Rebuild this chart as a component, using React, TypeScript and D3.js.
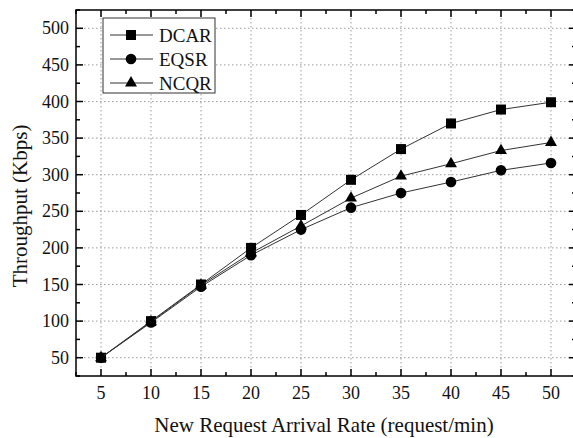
import * as d3 from 'd3';

const rates = [5, 10, 15, 20, 25, 30, 35, 40, 45, 50];
const dcar = [50, 100, 150, 200, 245, 293, 335, 370, 389, 399];
const eqsr = [50, 98, 147, 190, 225, 255, 275, 290, 306, 316];
const ncqr = [50, 99, 149, 193, 230, 268, 298, 315, 333, 344];
const seriesNames = ['DCAR', 'EQSR', 'NCQR'];
const xTicks = [5, 10, 15, 20, 25, 30, 35, 40, 45, 50];
const yTicks = [50, 100, 150, 200, 250, 300, 350, 400, 450, 500];

const W = 573;
const H = 438;
const PLOT = { left: 76, top: 10, right: 576, bottom: 376 };
const FONT = "'Liberation Serif', 'Times New Roman', serif";

const x = d3.scaleLinear().domain([2.5, 52.5]).range([PLOT.left, PLOT.right]);
const y = d3.scaleLinear().domain([25, 525]).range([PLOT.bottom, PLOT.top]);

const xMinor = d3.range(2.5, 52.6, 2.5).filter(v => !xTicks.includes(v));
const yMinor = d3.range(25, 526, 25).filter(v => !yTicks.includes(v));

const txt = { fontFamily: FONT, fill: '#111' };

function Marker({ kind, cx, cy }: { kind: string; cx: number; cy: number }) {
  if (kind === 'DCAR') {
    return <rect x={cx - 5} y={cy - 5} width={10} height={10} fill="#000" />;
  }
  if (kind === 'EQSR') {
    return <circle cx={cx} cy={cy} r={5.3} fill="#000" />;
  }
  const tri = d3.symbol().type(d3.symbolTriangle).size(62)();
  return <path d={tri || ''} transform={`translate(${cx},${cy})`} fill="#000" />;
}

export default function App() {
  const data = [dcar, eqsr, ncqr];
  const line = d3.line<number>().x((_, i) => x(rates[i])).y(d => y(d));

  return (
    <svg width={W} height={H} style={{ position: 'absolute', left: 0, top: 0, background: '#fff' }}>
      <rect x={0} y={0} width={W} height={H} fill="#fff" />

      {/* grid */}
      <g stroke="#9a9a9a" strokeWidth={1} strokeDasharray="1.5,2.5">
        {xTicks.map(t => (
          <line key={'gx' + t} x1={x(t)} x2={x(t)} y1={PLOT.top} y2={PLOT.bottom} />
        ))}
        {yTicks.map(t => (
          <line key={'gy' + t} x1={PLOT.left} x2={PLOT.right} y1={y(t)} y2={y(t)} />
        ))}
      </g>

      {/* ticks on all four sides, pointing inward */}
      <g stroke="#000" strokeWidth={1.5}>
        {xTicks.map(t => (
          <g key={'tx' + t}>
            <line x1={x(t)} x2={x(t)} y1={PLOT.bottom} y2={PLOT.bottom - 7} />
            <line x1={x(t)} x2={x(t)} y1={PLOT.top} y2={PLOT.top + 7} />
          </g>
        ))}
        {xMinor.map(t => (
          <g key={'mx' + t}>
            <line x1={x(t)} x2={x(t)} y1={PLOT.bottom} y2={PLOT.bottom - 4} />
            <line x1={x(t)} x2={x(t)} y1={PLOT.top} y2={PLOT.top + 4} />
          </g>
        ))}
        {yTicks.map(t => (
          <g key={'ty' + t}>
            <line x1={PLOT.left} x2={PLOT.left + 7} y1={y(t)} y2={y(t)} />
            <line x1={PLOT.right} x2={PLOT.right - 7} y1={y(t)} y2={y(t)} />
          </g>
        ))}
        {yMinor.map(t => (
          <g key={'my' + t}>
            <line x1={PLOT.left} x2={PLOT.left + 4} y1={y(t)} y2={y(t)} />
            <line x1={PLOT.right} x2={PLOT.right - 4} y1={y(t)} y2={y(t)} />
          </g>
        ))}
      </g>

      {/* series */}
      {data.map((vals, si) => (
        <g key={seriesNames[si]}>
          <path d={line(vals) || ''} fill="none" stroke="#333" strokeWidth={1} />
          {vals.map((v, i) => (
            <Marker key={i} kind={seriesNames[si]} cx={x(rates[i])} cy={y(v)} />
          ))}
        </g>
      ))}

      {/* frame */}
      <rect x={PLOT.left} y={PLOT.top} width={PLOT.right - PLOT.left} height={PLOT.bottom - PLOT.top}
        fill="none" stroke="#000" strokeWidth={1.5} />

      {/* tick labels */}
      {xTicks.map(t => (
        <text key={'lx' + t} x={x(t)} y={PLOT.bottom + 23} textAnchor="middle" style={{ ...txt, fontSize: 18 }}>{t}</text>
      ))}
      {yTicks.map(t => (
        <text key={'ly' + t} x={PLOT.left - 7} y={y(t) + 6} textAnchor="end" style={{ ...txt, fontSize: 18 }}>{t}</text>
      ))}

      {/* axis titles */}
      <text x={324} y={432} textAnchor="middle" style={{ ...txt, fontSize: 21 }}>
        New Request Arrival Rate (request/min)
      </text>
      <text transform="translate(27,206) rotate(-90)" textAnchor="middle" style={{ ...txt, fontSize: 21 }}>
        Throughput (Kbps)
      </text>

      {/* legend */}
      <g>
        <rect x={103} y={18} width={112} height={75} fill="#fff" stroke="#333" strokeWidth={1} />
        {seriesNames.map((name, i) => {
          const ly = 35 + i * 24;
          return (
            <g key={'lg' + name}>
              <line x1={110} x2={153} y1={ly} y2={ly} stroke="#333" strokeWidth={1} />
              <Marker kind={name} cx={131} cy={ly} />
              <text x={159} y={ly + 6.5} style={{ ...txt, fontSize: 19 }}>{name}</text>
            </g>
          );
        })}
      </g>
    </svg>
  );
}
